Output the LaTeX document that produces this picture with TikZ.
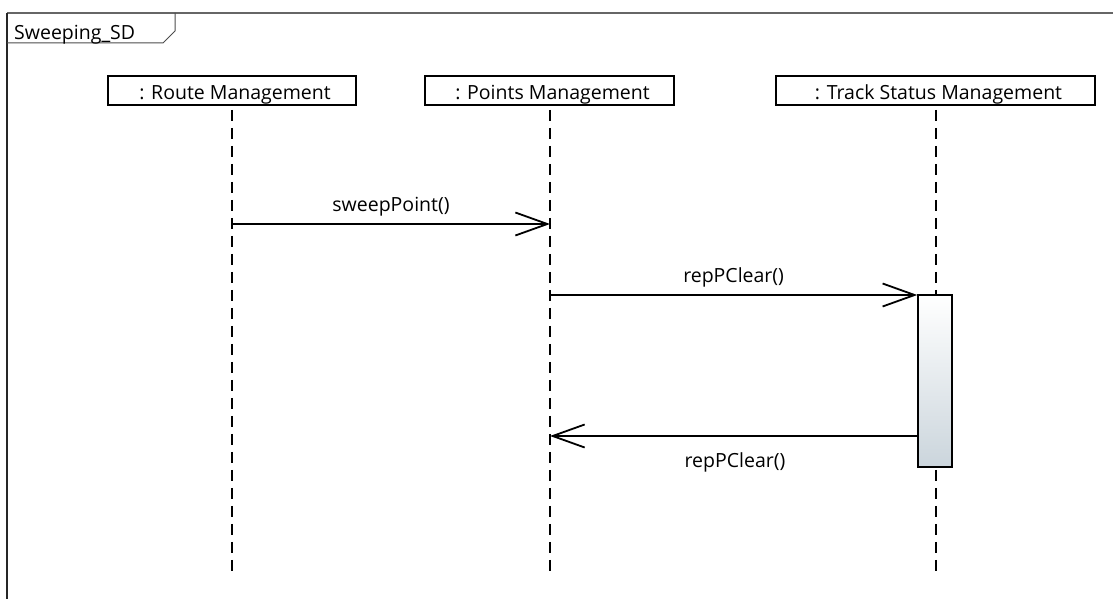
\documentclass[tikz,border=0pt]{standalone}
\usepackage{fontspec}
\setmainfont{Open Sans}
\usetikzlibrary{arrows.meta}
\begin{document}
\begin{tikzpicture}[x=1pt,y=-1pt,
  lifebox/.style={draw=black,line width=1.6pt,fill=white,minimum height=29pt,inner sep=0pt,text height=22pt,text depth=3pt,font=\fontsize{19.5}{22}\selectfont},
  lifeline/.style={line width=1.3pt,dash pattern=on 11pt off 7pt},
  msg/.style={line width=1.8pt,-{Straight Barb[length=32pt,width=23pt,line width=1.8pt]}},
  lbl/.style={font=\fontsize{19.5}{22}\selectfont,inner sep=0pt}]
\useasboundingbox (0,0) rectangle (1113,599);
% frame
\draw[gray!80!black,line width=1.2pt] (7,13) -- (1113,13);
\draw[black!85,line width=1.4pt] (7,13) -- (7,599);
\draw[black!70,line width=1pt] (7,43) -- (163,43) -- (175,31) -- (175,13);
\node[lbl,anchor=base west] (frame) at (14,40) {Sweeping\_SD};
% lifeline heads
\node[lifebox,minimum width=248pt] (rm) at (232,90.5) {\hspace{6pt}: Route Management};
\node[lifebox,minimum width=249pt] (pm) at (549.5,90.5) {\hspace{6pt}: Points Management};
\node[lifebox,minimum width=319pt] (ts) at (935.5,90.5) {\hspace{6pt}: Track Status Management};
\coordinate (rmEnd) at (232,572);
\coordinate (pmEnd) at (550,572);
\coordinate (tsEnd) at (936,572);
\draw[lifeline] (rm.south -| rmEnd) ++(0,4) -- (rmEnd);
\draw[lifeline] (pm.south -| pmEnd) ++(0,4) -- (pmEnd);
\draw[lifeline] (ts.south -| tsEnd) ++(0,4) -- (tsEnd);
% activation
\node[draw=black,line width=1.5pt,minimum width=34pt,minimum height=172pt,inner sep=0pt,
  top color=white,bottom color={rgb,255:red,203;green,213;blue,220}] (act) at (935,381) {};
% messages
\coordinate (m1s) at (232,224);
\coordinate (m1e) at (550,224);
\draw[msg] (m1s) -- (m1e) node[lbl,midway,above=7pt] (l1) {sweepPoint()};
\coordinate (m2s) at (550,295);
\draw[msg] (m2s) -- (act.west |- m2s) node[lbl,midway,above=7pt] (l2) {repPClear()};
\coordinate (m3e) at (550,436);
\draw[msg] (act.west |- m3e) -- (m3e);
\node[lbl,anchor=base] (l3) at (735,467) {repPClear()};
\end{tikzpicture}
\end{document}
